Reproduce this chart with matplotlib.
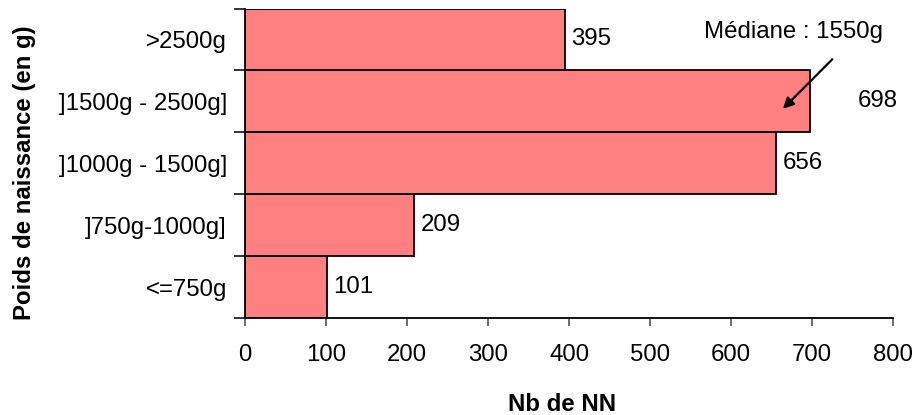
import matplotlib
matplotlib.use("Agg")
import matplotlib.pyplot as plt
import numpy as np

plt.rcParams['font.family'] = ['Liberation Sans', 'DejaVu Sans']

# Birth-weight classes (bottom to top) and number of newborns in each
categories = ["<=750g", "]750g-1000g]", "]1000g - 1500g]", "]1500g - 2500g]", ">2500g"]
counts = [101, 209, 656, 698, 395]
x_ticks = [0, 100, 200, 300, 400, 500, 600, 700, 800]
median_text = "Médiane : 1550g"

FS = 17.3

fig = plt.figure(figsize=(9.16, 4.15), dpi=100)
ax = fig.add_axes([0.2675, 0.2337, 0.7075, 0.7458])

y = np.arange(len(categories))
bars = ax.barh(y, counts, height=1.0, color="#FF8080", edgecolor="black", linewidth=1.3)

ax.set_xlim(0, 800)
ax.set_ylim(-0.5, len(categories) - 0.5)

# x axis
ax.set_xticks(x_ticks)
ax.set_xticklabels([str(t) for t in x_ticks], fontsize=FS)
ax.tick_params(axis="x", direction="out", length=6, width=1.1, color="#444444", pad=13)

# y axis: tick marks at class boundaries, labels centred on each bar
ax.set_yticks(np.arange(len(categories) + 1) - 0.5)
ax.set_yticklabels([])
ax.tick_params(axis="y", which="major", direction="out", length=8, width=1.1)
ax.set_yticks(y, minor=True)
ax.set_yticklabels(categories, minor=True, fontsize=FS)
ax.tick_params(axis="y", which="minor", length=0, pad=13)

for side in ("top", "right"):
    ax.spines[side].set_visible(False)
for side in ("left", "bottom"):
    ax.spines[side].set_linewidth(1.3)

# value labels next to each bar (offsets in points)
label_offsets = [4.3, 4.3, 4.3, 34.2, 4.3]
for yi, v, off in zip(y, counts, label_offsets):
    ax.annotate(str(v), xy=(v, yi), xytext=(off, 0), textcoords="offset points",
                ha="left", va="center", fontsize=FS)

# median annotation
ax.annotate("", xy=(664, 2.88), xytext=(725, 3.68),
            arrowprops=dict(arrowstyle="-|>", color="black", lw=1.6,
                            mutation_scale=16, shrinkA=0, shrinkB=0))
ax.text(677, 4.12, median_text, ha="center", va="center", fontsize=FS)

ax.set_xlabel("Nb de NN", fontsize=FS, fontweight="bold")
ax.xaxis.set_label_coords(0.489, -0.241)
ax.set_ylabel("Poids de naissance (en g)", fontsize=FS, fontweight="bold")
ax.yaxis.set_label_coords(-0.3225, 0.468)

fig.savefig("out.png", dpi=100)
